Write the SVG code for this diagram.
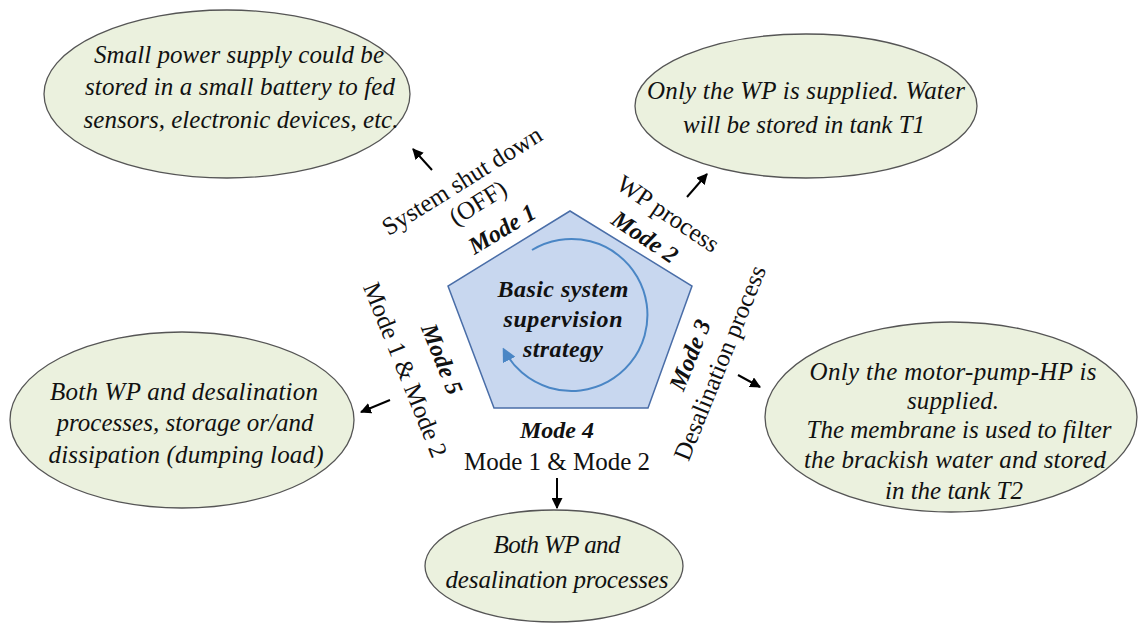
<svg xmlns="http://www.w3.org/2000/svg" width="1139" height="626" viewBox="0 0 1139 626">
<defs>
<style>
.ell{fill:#ebf1de;stroke:#555;stroke-width:1.3}
text{font-family:'Liberation Serif','Times New Roman',serif;fill:#111}
.et{font-style:italic;font-size:25px;text-anchor:middle}
.lbl{font-size:25px;text-anchor:middle}
.mode{font-style:italic;font-weight:bold;font-size:24px;text-anchor:middle}
.ct{font-style:italic;font-weight:bold;font-size:24px;text-anchor:middle}
.arr{stroke:#000;stroke-width:2;fill:none;marker-end:url(#ah)}
</style>
<marker id="ah" viewBox="0 0 10 10" refX="9" refY="5" markerWidth="5.5" markerHeight="5.5" orient="auto" markerUnits="strokeWidth">
<path d="M0,0 L10,5 L0,10 z" fill="#000"/>
</marker>
<marker id="bh" viewBox="0 0 10 10" refX="8" refY="5" markerWidth="7" markerHeight="7" orient="auto" markerUnits="strokeWidth">
<path d="M0,0 L10,5 L0,10 z" fill="#4a86c5"/>
</marker>
</defs>
<rect width="1139" height="626" fill="#fff"/>

<g id="center">
<polygon points="570,211 692,286 648,408 494,408 448,286" fill="#c8d7ef" stroke="#4a6ea8" stroke-width="1.5"/>
<path d="M532,250 A76,76 0 1 1 504,350" fill="none" stroke="#4a86c5" stroke-width="2" marker-end="url(#bh)"/>
<text class="ct" x="563" y="297" textLength="131" lengthAdjust="spacing">Basic system</text>
<text class="ct" x="563" y="327" textLength="119" lengthAdjust="spacing">supervision</text>
<text class="ct" x="563" y="357" textLength="80" lengthAdjust="spacing">strategy</text>
</g>

<g id="labels">
<text class="lbl" transform="translate(462,181) rotate(-32)" y="8">System shut down</text>
<text class="lbl" transform="translate(478,203) rotate(-32)" y="8">(OFF)</text>
<text class="mode" transform="translate(502,229) rotate(-31)" y="8">Mode 1</text>
<text class="lbl" transform="translate(668,214) rotate(34)" y="8">WP process</text>
<text class="mode" transform="translate(645,237) rotate(34)" y="8">Mode 2</text>
<text class="lbl" transform="translate(720,363) rotate(-68)" y="8">Desalination process</text>
<text class="mode" transform="translate(690,355) rotate(-68)" y="8">Mode 3</text>
<text class="mode" x="557" y="438">Mode 4</text>
<text class="lbl" x="557" y="470">Mode 1 &amp; Mode 2</text>
<text class="mode" transform="translate(442,359) rotate(68)" y="8">Mode 5</text>
<text class="lbl" transform="translate(405,370) rotate(68)" y="8">Mode 1 &amp; Mode 2</text>
</g>

<g id="connectors">
<line class="arr" x1="432" y1="170" x2="413" y2="149"/>
<line class="arr" x1="687" y1="197" x2="707" y2="174"/>
<line class="arr" x1="738" y1="375" x2="760" y2="387"/>
<line class="arr" x1="390" y1="400" x2="361" y2="412"/>
<line class="arr" x1="557" y1="478" x2="557" y2="508"/>
</g>

<g id="mode1-box">
<ellipse class="ell" cx="227" cy="94" rx="183" ry="84"/>
<text class="et" x="239" y="63" textLength="290" lengthAdjust="spacing">Small power supply could be</text>
<text class="et" x="240" y="95" textLength="310" lengthAdjust="spacing">stored in a small battery to fed</text>
<text class="et" x="241" y="128" textLength="315" lengthAdjust="spacing">sensors, electronic devices, etc.</text>
</g>

<g id="mode2-box">
<ellipse class="ell" cx="806" cy="106" rx="171" ry="72"/>
<text class="et" x="806" y="99" textLength="318" lengthAdjust="spacing">Only the WP is supplied. Water</text>
<text class="et" x="804" y="133" textLength="242" lengthAdjust="spacing">will be stored in tank T1</text>
</g>

<g id="mode3-box">
<ellipse class="ell" cx="951" cy="417" rx="186" ry="95"/>
<text class="et" x="953" y="380" textLength="287" lengthAdjust="spacing">Only the motor-pump-HP is</text>
<text class="et" x="953" y="409" textLength="92" lengthAdjust="spacing">supplied.</text>
<text class="et" x="959" y="438" textLength="305" lengthAdjust="spacing">The membrane is used to filter</text>
<text class="et" x="955" y="468" textLength="302" lengthAdjust="spacing">the brackish water and stored</text>
<text class="et" x="954" y="499" textLength="138" lengthAdjust="spacing">in the tank T2</text>
</g>

<g id="mode5-box">
<ellipse class="ell" cx="182" cy="420" rx="172" ry="88"/>
<text class="et" x="184" y="400" textLength="268" lengthAdjust="spacing">Both WP and desalination</text>
<text class="et" x="185" y="431" textLength="257" lengthAdjust="spacing">processes, storage or/and</text>
<text class="et" x="186" y="463" textLength="275" lengthAdjust="spacing">dissipation (dumping load)</text>
</g>

<g id="mode4-box">
<ellipse class="ell" cx="554" cy="566" rx="129" ry="56"/>
<text class="et" x="557" y="553" textLength="127" lengthAdjust="spacing">Both WP and</text>
<text class="et" x="557" y="588" textLength="223" lengthAdjust="spacing">desalination processes</text>
</g>
</svg>
